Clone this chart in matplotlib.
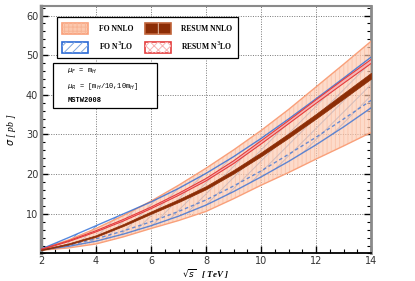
import numpy as np
import matplotlib
matplotlib.use("Agg")
import matplotlib.pyplot as plt
from matplotlib.patches import Patch, Rectangle
from matplotlib.ticker import MultipleLocator

# sqrt(s) in TeV
sqrt_s = [2, 3, 4, 5, 6, 7, 8, 9, 10, 11, 12, 13, 14]

# FO NNLO scale band
fo_nnlo_hi = [1.1, 3.4, 6.3, 9.6, 13.2, 17.2, 21.5, 26.1, 31.0, 36.3, 42.0, 47.7, 53.5]
fo_nnlo_lo = [0.8, 1.4, 2.4, 4.2, 6.3, 8.3, 10.6, 13.8, 17.2, 20.4, 23.8, 27.1, 30.5]

# FO N3LO band + central
fo_n3lo_hi = [1.1, 4.0, 7.0, 10.0, 13.0, 16.4, 20.2, 24.4, 29.0, 33.9, 39.0, 44.2, 49.5]
fo_n3lo_mid = [0.9, 2.1, 3.7, 5.7, 8.0, 10.6, 13.5, 17.0, 20.8, 25.0, 29.3, 33.9, 38.6]
fo_n3lo_lo = [0.9, 1.8, 3.1, 4.9, 7.0, 9.4, 12.2, 15.6, 19.3, 23.2, 27.4, 31.9, 36.7]

# resummed results
resum_n3lo = [1.0, 3.1, 5.6, 8.4, 11.5, 14.9, 18.6, 23.0, 28.0, 33.1, 38.3, 43.4, 48.4]
resum_n3lo_err = [0.05, 0.1, 0.15, 0.2, 0.2, 0.25, 0.3, 0.35, 0.4, 0.4, 0.45, 0.5, 0.5]
resum_nnlo = [0.9, 2.4, 4.4, 7.2, 10.3, 13.3, 16.6, 20.6, 25.0, 29.7, 34.6, 39.7, 44.8]
resum_nnlo_err = [0.1, 0.15, 0.2, 0.25, 0.3, 0.35, 0.4, 0.45, 0.5, 0.55, 0.6, 0.7, 0.75]

x = np.array(sqrt_s)
rn3 = np.array(resum_n3lo)
rn3e = np.array(resum_n3lo_err)
rn2 = np.array(resum_nnlo)
rn2e = np.array(resum_nnlo_err)

plt.rcParams['hatch.linewidth'] = 0.7

orange_edge = '#f9a07a'
orange_fill = '#fcc8ae'
blue = '#2a6ad6'
blue_hatch = '#7fa6dd'
red = '#e43c3c'
red_fill = '#f7b3b3'
brown = '#8c2d06'

fig = plt.figure(figsize=(4.15, 2.81), dpi=100)
ax = fig.add_axes([0.099, 0.098, 0.795, 0.882])

# FO N3LO: hatched band with lines
ax.fill_between(x, fo_n3lo_lo, fo_n3lo_hi, facecolor='none', edgecolor=blue_hatch,
                hatch='///', linewidth=0, zorder=2)

# FO NNLO: translucent orange band on top
ax.fill_between(x, fo_nnlo_lo, fo_nnlo_hi, facecolor=orange_fill, alpha=0.65,
                linewidth=0, zorder=3)
ax.fill_between(x, fo_nnlo_lo, fo_nnlo_hi, facecolor='none', edgecolor='#f7b090',
                hatch='||||', linewidth=0, alpha=0.45, zorder=3)
ax.plot(x, fo_nnlo_hi, color=orange_edge, lw=1.0, zorder=3)
ax.plot(x, fo_nnlo_lo, color=orange_edge, lw=1.0, zorder=3)

# FO N3LO lines, slightly muted inside the orange band
ax.plot(x, fo_n3lo_hi, color=blue, lw=1.0, alpha=0.8, zorder=3.5)
ax.plot(x, fo_n3lo_lo, color=blue, lw=1.0, alpha=0.75, zorder=3.5)
ax.plot(x, fo_n3lo_mid, color=blue, lw=1.0, alpha=0.7, ls=(0, (2.5, 2)), zorder=3.5)

# RESUM N3LO
ax.fill_between(x, rn3 - rn3e, rn3 + rn3e, facecolor=red_fill, linewidth=0, zorder=4)
ax.plot(x, rn3 + rn3e, color=red, lw=0.8, zorder=4)
ax.plot(x, rn3 - rn3e, color=red, lw=0.8, zorder=4)

# RESUM NNLO
ax.fill_between(x, rn2 - rn2e, rn2 + rn2e, facecolor=brown, edgecolor=brown,
                linewidth=0.5, zorder=5)

ax.set_xlim(2, 14)
ax.set_ylim(0, 62.5)
ax.xaxis.set_major_locator(MultipleLocator(2))
ax.xaxis.set_minor_locator(MultipleLocator(0.5))
ax.yaxis.set_minor_locator(MultipleLocator(2))
ax.set_yticks([10, 20, 30, 40, 50, 60])
ax.grid(True, which='major', color='#777777', ls=(0, (1, 1.5)), lw=0.7, zorder=1)

ax.tick_params(which='both', direction='in', left=True, right=True, bottom=True,
               top=False, labelsize=7, labelcolor='#333333', pad=2)
ax.tick_params(which='major', length=5, width=1)
ax.tick_params(which='minor', length=3, width=0.8)
for side in ['left', 'right', 'top']:
    ax.spines[side].set_color('#8a8a8a')
ax.spines['left'].set_linewidth(2.5)
ax.spines['right'].set_linewidth(2.0)
ax.spines['top'].set_linewidth(1.5)
ax.spines['bottom'].set_linewidth(1.3)

ax.set_xlabel(r'$\sqrt{s}$   [ TeV ]', fontsize=6.5, fontstyle='italic',
              fontweight='bold', family='Liberation Serif', labelpad=1)
ax.set_ylabel(r'$\sigma$ [ pb ]', fontsize=7, fontstyle='italic',
              family='Liberation Serif', labelpad=6)

# legend
h_fo_nnlo = (Patch(facecolor=orange_fill, edgecolor=orange_edge, lw=1.2),
             Patch(facecolor='none', edgecolor='#f8b596', hatch='++++', lw=0))
h_fo_n3lo = (Patch(facecolor='white', edgecolor=blue, lw=1.2),
             Patch(facecolor='none', edgecolor=blue_hatch, hatch='////', lw=0))
h_rs_nnlo = (Patch(facecolor=brown, edgecolor='#c0643a', lw=1.2),
             Patch(facecolor='none', edgecolor='#e8c0a8', hatch='|', lw=0))
h_rs_n3lo = (Patch(facecolor='white', edgecolor=red, lw=1.2),
             Patch(facecolor='none', edgecolor=red_fill, hatch='xxxx', lw=0))
leg = ax.legend([h_fo_nnlo, h_fo_n3lo, h_rs_nnlo, h_rs_n3lo],
                ['FO NNLO', r'FO N$^3$LO', 'RESUM NNLO', r'RESUM N$^3$LO'],
                ncol=2, loc='upper left', bbox_to_anchor=(0.036, 0.968),
                prop={'family': 'Liberation Serif', 'weight': 'bold', 'size': 5.5},
                handlelength=3.4, handleheight=1.9, columnspacing=1.5,
                labelspacing=0.7, borderpad=0.7, handletextpad=1.4,
                fancybox=False, framealpha=1, edgecolor='black')
leg.get_frame().set_linewidth(0.9)
leg.set_zorder(10)

# parameter box
ax.add_patch(Rectangle((0.036, 0.587), 0.316, 0.182, transform=ax.transAxes,
                       facecolor='white', edgecolor='black', lw=0.9, zorder=10))
ax.text(0.08, 0.728, r'$\mu_F$ = m$_H$', transform=ax.transAxes, fontsize=5,
        family='Liberation Mono', zorder=11)
ax.text(0.08, 0.668, r'$\mu_R$ = [m$_H$/10,10m$_H$]', transform=ax.transAxes, fontsize=5,
        family='Liberation Mono', zorder=11)
ax.text(0.08, 0.612, 'MSTW2008', transform=ax.transAxes, fontsize=5,
        family='Liberation Mono', fontweight='bold', zorder=11)

fig.savefig('out.png', dpi=100)
